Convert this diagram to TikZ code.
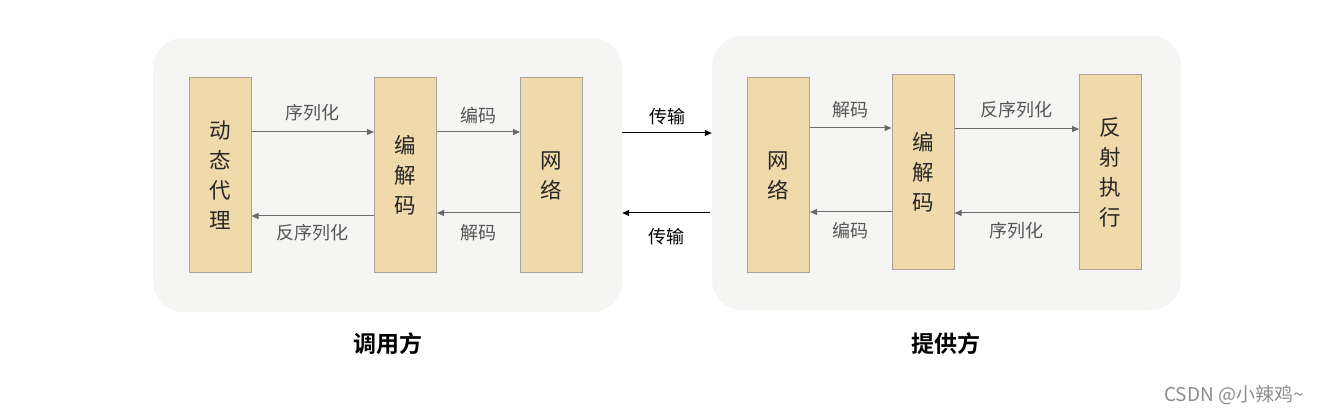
\documentclass[tikz,border=0pt]{standalone}
\usepackage{fontspec}
\setmainfont{Noto Sans CJK SC}[BoldFont={Noto Sans CJK SC Bold}]
\usetikzlibrary{arrows.meta}
\definecolor{panelbg}{HTML}{F5F5F3}
\definecolor{boxfill}{HTML}{F0D9AB}
\definecolor{boxline}{HTML}{A8A49C}
\definecolor{flowgray}{HTML}{6A6A6A}
\definecolor{labelgray}{HTML}{555555}

\begin{document}
\begin{tikzpicture}[x=1pt,y=-1pt,
  panel/.style={rectangle, rounded corners=30pt, fill=panelbg, draw=none,
    minimum width=469pt, minimum height=274pt},
  stage/.style={rectangle, fill=boxfill, draw=boxline, line width=1pt,
    minimum width=62pt, minimum height=195pt, align=center,
    font=\fontsize{21.5}{30}\selectfont, text=black!85},
  flow/.style={draw=flowgray, line width=1pt, -{Triangle[length=7pt,width=6pt]}},
  wire/.style={draw=black, line width=1pt, -{Triangle[length=7pt,width=6pt]}},
  lbl/.style={font=\fontsize{18}{20}\selectfont, text=labelgray},
  title/.style={font=\fontsize{23}{26}\selectfont\bfseries}]
  \useasboundingbox (0,0) rectangle (1318,414);

  % two sides
  \node[panel] (caller) at (387.5,175) {};
  \node[panel] (provider) at (946.5,173) {};

  % caller side
  \node[stage] (proxy) at (220,175.5) {动\\态\\代\\理};
  \node[stage] (codecA) at (405.5,175.5) {编\\解\\码};
  \node[stage] (netA) at (551.5,175.5) {网\\络};

  % provider side
  \node[stage] (netB) at (778.5,175.5) {网\\络};
  \node[stage] (codecB) at (923,172.5) {编\\解\\码};
  \node[stage] (reflect) at (1110.5,172.5) {反\\射\\执\\行};

  \draw[flow] (proxy.east |- 0,132) -- node[lbl, midway, yshift=19pt] {序列化} (codecA.west |- 0,132);
  \draw[flow] (codecA.east |- 0,132) -- node[lbl, midway, yshift=16pt] {编码} (netA.west |- 0,132);
  \draw[flow] (codecA.west |- 0,216) -- node[lbl, midway, yshift=-17pt] {反序列化} (proxy.east |- 0,216);
  \draw[flow] (netA.west |- 0,213) -- node[lbl, midway, yshift=-20pt] {解码} (codecA.east |- 0,213);

  \draw[flow] (netB.east |- 0,128) -- node[lbl, midway, yshift=18pt] {解码} (codecB.west |- 0,128);
  \draw[flow] (codecB.east |- 0,129) -- node[lbl, midway, yshift=19pt] {反序列化} (reflect.west |- 0,129);
  \draw[flow] (codecB.west |- 0,212) -- node[lbl, midway, yshift=-19pt] {编码} (netB.east |- 0,212);
  \draw[flow] (reflect.west |- 0,213) -- node[lbl, midway, yshift=-18pt] {序列化} (codecB.east |- 0,213);

  % transport between the sides
  \draw[wire] (caller.east |- 0,133) -- node[lbl, text=black, midway, yshift=16pt] {传输} (provider.west |- 0,133);
  \draw[wire] ([xshift=-2pt]provider.west |- 0,213) -- node[lbl, text=black, midway, yshift=-24pt] {传输} (caller.east |- 0,213);

  \node[title] (callerName) at (388,344) {调用方};
  \node[title] (providerName) at (946,344) {提供方};

  \node[font=\fontsize{19}{21}\selectfont, text=black!45] (mark) at (1234,395) {CSDN @小辣鸡\textasciitilde};
\end{tikzpicture}
\end{document}
